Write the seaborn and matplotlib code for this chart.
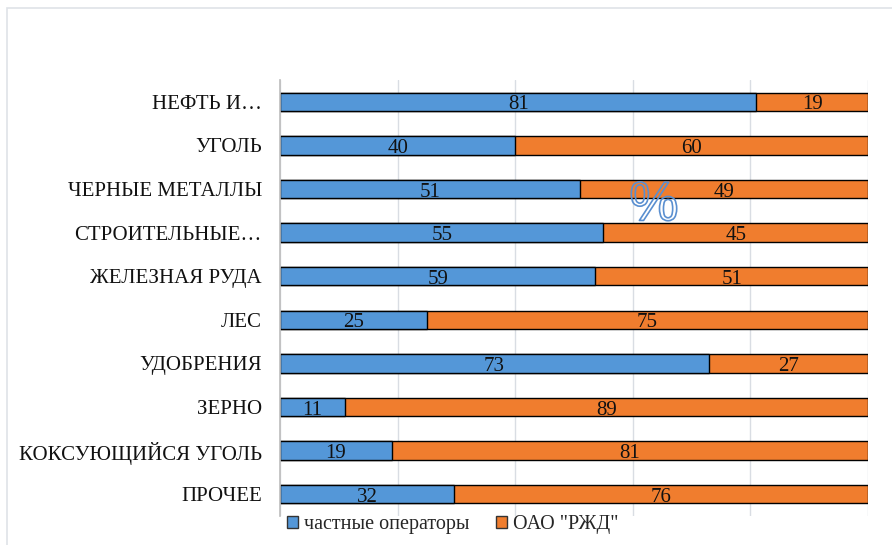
import matplotlib
matplotlib.use("Agg")
import matplotlib.pyplot as plt
import matplotlib.patheffects as pe
from matplotlib.patches import Rectangle, Patch
import seaborn as sns
import pandas as pd

categories = ["НЕФТЬ И…", "УГОЛЬ", "ЧЕРНЫЕ МЕТАЛЛЫ", "СТРОИТЕЛЬНЫЕ…", "ЖЕЛЕЗНАЯ РУДА",
              "ЛЕС", "УДОБРЕНИЯ", "ЗЕРНО", "КОКСУЮЩИЙСЯ УГОЛЬ", "ПРОЧЕЕ"]
private_ops = [81, 40, 51, 55, 59, 25, 73, 11, 19, 32]
rzd = [19, 60, 49, 45, 51, 75, 27, 89, 81, 76]
series_names = ["частные операторы", "ОАО \"РЖД\""]

BLUE = "#5497D8"
ORANGE = "#F07D2E"

sns.set_theme(style="white")
plt.rcParams["font.family"] = ["Liberation Serif", "DejaVu Serif"]

df = pd.DataFrame({"cat": categories, "a": private_ops, "b": rzd})
df["total"] = df["a"] + df["b"]
df["share_a"] = df["a"] / df["total"] * 100
df["full"] = 100.0

fig = plt.figure(figsize=(8.92, 5.45), dpi=100)
W, H = 892, 545
ax = fig.add_axes([280 / W, 1 - 516 / H, (868 - 280) / W, (516 - 80) / H])

# chart frame
fig.patches.append(Rectangle((7 / W, -0.02), 1.0, 1 - 8 / H + 0.02, transform=fig.transFigure,
                             fill=False, edgecolor="#dfe3e8", linewidth=1.2, zorder=0))

sns.barplot(data=df, x="full", y="cat", color=ORANGE, orient="h", width=0.42,
            edgecolor="black", linewidth=1, saturation=1, ax=ax, zorder=3)
sns.barplot(data=df, x="share_a", y="cat", color=BLUE, orient="h", width=0.42,
            edgecolor="black", linewidth=1, saturation=1, ax=ax, zorder=4)

for i, row in df.iterrows():
    ax.text(row["share_a"] / 2, i + 0.07, f"{row['a']}", ha="center", va="center",
            fontsize=15, color="#111111", zorder=5)
    ax.text(row["share_a"] + (100 - row["share_a"]) / 2, i + 0.07, f"{row['b']}",
            ha="center", va="center", fontsize=15, color="#111111", zorder=5)

ax.set_xlim(0, 100)
ax.set_ylim(len(categories) - 0.5, -0.5)
ax.set_xticks([0, 20, 40, 60, 80, 100])
ax.set_xticklabels([])
ax.grid(axis="x", color="#d9dde3", linewidth=1, zorder=0)
ax.set_axisbelow(True)
for s in ["top", "right", "bottom"]:
    ax.spines[s].set_visible(False)
ax.spines["left"].set_color("#bfbfbf")
ax.spines["left"].set_zorder(6)
ax.set_xlabel("")
ax.set_ylabel("")
ax.tick_params(axis="y", length=0, pad=13, labelsize=15, labelcolor="#111111")
ax.tick_params(axis="x", length=0)

ax.text(63.6, 2.4, "%", fontsize=40, color="none", ha="center", va="center",
        family=["Liberation Sans", "DejaVu Sans"], zorder=7,
        path_effects=[pe.Stroke(linewidth=1.2, foreground="#5a8fd0")])

handles = [Patch(facecolor=BLUE, edgecolor="#333333", linewidth=1),
           Patch(facecolor=ORANGE, edgecolor="#333333", linewidth=1)]
fig.legend(handles, series_names, loc="center left", bbox_to_anchor=(287 / W, 1 - 525 / H),
           ncol=2, frameon=False, fontsize=14.5, handlelength=0.55, handleheight=0.55,
           handletextpad=0.3, columnspacing=1.3, borderaxespad=0, borderpad=0)

fig.savefig("out.png", dpi=100)
